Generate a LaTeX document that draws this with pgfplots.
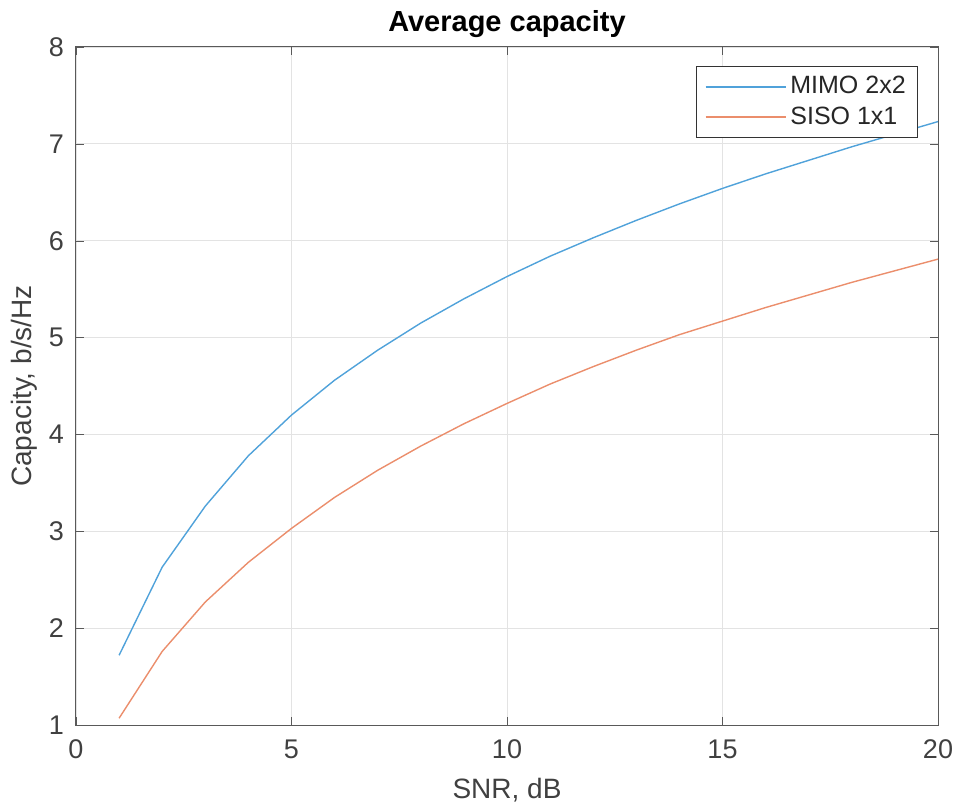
\documentclass[border=0pt]{standalone}
\usepackage{pgfplots}
\pgfplotsset{compat=1.18}
\usepackage{fontspec}
\setmainfont{Liberation Sans}
\definecolor{mblue}{RGB}{80,162,218}
\definecolor{morange}{RGB}{235,142,108}
\begin{document}
\begin{tikzpicture}
\useasboundingbox (-38pt,-39pt) rectangle (440.5pt,362.5pt);
\begin{axis}[
  scale only axis,
  width=431pt, height=339pt,
  xmin=0, xmax=20, ymin=1, ymax=8,
  xtick={0,5,10,15,20}, ytick={1,2,3,4,5,6,7,8},
  tick align=inside,
  major tick length=4pt,
  axis line style={gray!70!black, line width=0.5pt},
  tick style={gray!70!black},
  grid=major,
  major grid style={gray!22, line width=0.4pt},
  /pgf/number format/assume math mode=true,
  ticklabel style={font=\fontsize{13.5}{15}\selectfont, text=black!75},
  xticklabel style={yshift=-4pt},
  yticklabel style={xshift=-2.5pt},
  title={\textbf{Average capacity}},
  title style={font=\fontsize{14.5}{16}\selectfont, at={(axis description cs:0.5,1)}, anchor=center, yshift=5.5pt},
  xlabel={SNR, dB},
  ylabel={Capacity, b/s/Hz},
  label style={font=\fontsize{14}{16}\selectfont, text=black!75},
  xlabel style={at={(axis description cs:0.5,-0.0959)}, anchor=center},
  ylabel style={at={(axis description cs:-0.0603,0.5)}, anchor=center},
  legend style={at={(rel axis cs:0.977,0.972)}, anchor=north east,
    font=\fontsize{12.5}{14}\selectfont, draw=black!80, line width=0.5pt,
    inner xsep=4pt, inner ysep=3pt, row sep=1pt, text=black!85},
  legend cell align=left,
  legend image code/.code={\draw[#1, line width=0.8pt] (3pt,0pt) -- (43pt,0pt);},
]
\addplot[mblue, line width=0.7pt] coordinates {
(1,1.72) (2,2.63) (3,3.26) (4,3.78) (5,4.20) (6,4.56) (7,4.87) (8,5.15) (9,5.40) (10,5.63)
(11,5.84) (12,6.03) (13,6.21) (14,6.38) (15,6.54) (16,6.69) (17,6.83) (18,6.97) (19,7.10) (20,7.23)};
\addlegendentry{MIMO 2x2}
\addplot[morange, line width=0.7pt] coordinates {
(1,1.07) (2,1.76) (3,2.27) (4,2.68) (5,3.03) (6,3.35) (7,3.63) (8,3.88) (9,4.11) (10,4.32)
(11,4.52) (12,4.70) (13,4.87) (14,5.03) (15,5.17) (16,5.31) (17,5.44) (18,5.57) (19,5.69) (20,5.81)};
\addlegendentry{SISO 1x1}
\end{axis}
\end{tikzpicture}
\end{document}
